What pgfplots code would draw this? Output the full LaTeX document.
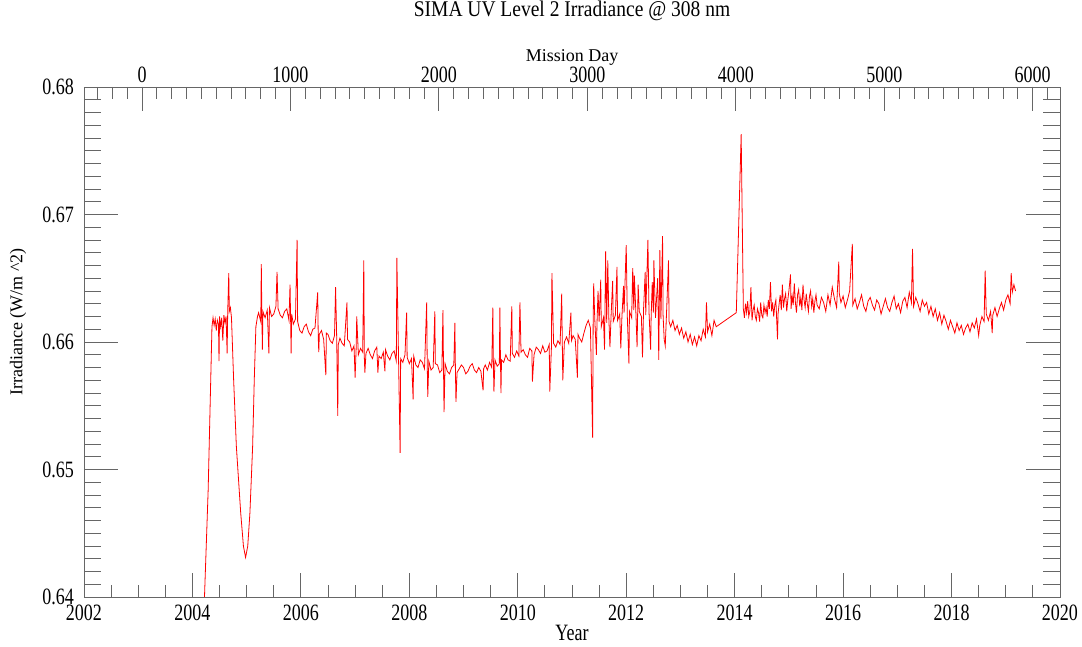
\documentclass[border=0pt]{standalone}
\usepackage{fontspec}
\setmainfont{Liberation Serif}
\usepackage{graphicx}
\usepackage{pgfplots}
\pgfplotsset{compat=1.18}
\newcommand\fs{\fontsize{18}{21}\selectfont}
\newcommand\tall[1]{\scalebox{1}[1.3]{#1}}
\begin{document}
\begin{tikzpicture}
\useasboundingbox (-84pt,-49pt) rectangle (998pt,597pt);
\pgfplotsset{
  common/.style={scale only axis, width=976pt, height=510pt, at={(0pt,0pt)}, anchor=south west,
    axis line style={draw=black!60, line width=0.9pt},
    tick style={draw=black!60, line width=0.9pt},
    tick align=inside,
    tick label style={font=\fs, text=black},
    label style={font=\fs},
    /pgf/number format/assume math mode=true,
    /pgf/number format/1000 sep={},
    ymin=0.64, ymax=0.68},
}
% ---------- axis 1: years (bottom) and data ----------
\begin{axis}[common, xmin=2002, xmax=2020,
  xtick={2002,2004,...,2020}, minor xtick={2002,2002.5,...,2020},
  xtick pos=left, ytick=\empty,
  major tick length=24pt, minor tick length=12pt,
  xticklabel={\tall{\pgfmathprintnumber{\tick}}},
  xticklabel style={anchor=center, yshift=-16pt},
  xlabel={\tall{Year}}, xlabel style={at={(axis description cs:0.5,-0.0706)}, anchor=center},
  title={\scalebox{1}[1.15]{SIMA UV Level 2 Irradiance @ 308 nm}},
  title style={font=\fontsize{19.5}{22}\selectfont, at={(axis description cs:0.5,1.137)}, anchor=center},
]
\addplot[red, line width=0.8pt] table {
2004.21 0.6385
2004.29 0.6484
2004.36 0.6612
2004.38 0.6619
2004.40 0.6613
2004.42 0.6618
2004.44 0.6609
2004.46 0.6617
2004.48 0.6614
2004.49 0.6585
2004.50 0.6620
2004.52 0.6612
2004.54 0.6619
2004.56 0.6601
2004.58 0.6621
2004.60 0.6615
2004.62 0.6620
2004.64 0.6591
2004.65 0.6623
2004.67 0.6654
2004.68 0.6624
2004.70 0.6627
2004.72 0.6619
2004.76 0.6570
2004.81 0.6518
2004.89 0.6466
2004.94 0.6440
2004.98 0.6431
2005.02 0.6440
2005.06 0.6466
2005.11 0.6518
2005.14 0.6570
2005.17 0.6612
2005.20 0.6620
2005.22 0.6623
2005.26 0.6616
2005.27 0.6661
2005.28 0.6621
2005.29 0.6594
2005.30 0.6624
2005.34 0.6619
2005.38 0.6625
2005.41 0.6591
2005.42 0.6627
2005.46 0.6620
2005.50 0.6622
2005.54 0.6628
2005.56 0.6655
2005.58 0.6626
2005.62 0.6621
2005.66 0.6619
2005.70 0.6624
2005.74 0.6626
2005.78 0.6617
2005.80 0.6645
2005.81 0.6619
2005.82 0.6591
2005.83 0.6622
2005.86 0.6614
2005.90 0.6618
2005.93 0.6680
2005.94 0.6616
2005.98 0.6609
2006.02 0.6607
2006.06 0.6612
2006.10 0.6614
2006.14 0.6608
2006.18 0.6605
2006.22 0.6610
2006.26 0.6611
2006.31 0.6639
2006.32 0.6604
2006.33 0.6592
2006.34 0.6606
2006.38 0.6609
2006.42 0.6602
2006.46 0.6574
2006.47 0.6607
2006.50 0.6606
2006.54 0.6601
2006.58 0.6599
2006.62 0.6605
2006.64 0.6643
2006.66 0.6604
2006.68 0.6542
2006.69 0.6598
2006.72 0.6603
2006.76 0.6599
2006.80 0.6597
2006.85 0.6631
2006.86 0.6602
2006.90 0.6600
2006.94 0.6593
2006.98 0.6597
2007.00 0.6572
2007.02 0.6596
2007.03 0.6620
2007.06 0.6590
2007.10 0.6595
2007.14 0.6592
2007.16 0.6664
2007.17 0.6588
2007.18 0.6576
2007.20 0.6591
2007.24 0.6595
2007.28 0.6590
2007.32 0.6587
2007.36 0.6593
2007.40 0.6596
2007.42 0.6576
2007.44 0.6589
2007.48 0.6587
2007.52 0.6592
2007.55 0.6577
2007.56 0.6594
2007.60 0.6589
2007.64 0.6586
2007.68 0.6591
2007.72 0.6593
2007.76 0.6585
2007.77 0.6666
2007.80 0.6590
2007.83 0.6513
2007.84 0.6587
2007.88 0.6584
2007.92 0.6590
2007.95 0.6623
2007.96 0.6588
2008.00 0.6583
2008.04 0.6587
2008.07 0.6555
2008.08 0.6589
2008.12 0.6582
2008.16 0.6580
2008.20 0.6586
2008.24 0.6584
2008.28 0.6579
2008.32 0.6631
2008.33 0.6583
2008.34 0.6557
2008.36 0.6585
2008.40 0.6578
2008.44 0.6580
2008.47 0.6624
2008.48 0.6583
2008.52 0.6582
2008.56 0.6576
2008.60 0.6578
2008.62 0.6625
2008.63 0.6581
2008.64 0.6545
2008.66 0.6583
2008.70 0.6577
2008.74 0.6575
2008.78 0.6580
2008.82 0.6582
2008.84 0.6615
2008.85 0.6578
2008.86 0.6553
2008.88 0.6576
2008.92 0.6579
2008.96 0.6582
2009.00 0.6580
2009.04 0.6575
2009.08 0.6577
2009.12 0.6581
2009.16 0.6583
2009.20 0.6578
2009.24 0.6576
2009.28 0.6580
2009.32 0.6577
2009.36 0.6562
2009.37 0.6579
2009.40 0.6582
2009.44 0.6578
2009.48 0.6584
2009.52 0.6580
2009.54 0.6627
2009.55 0.6583
2009.56 0.6561
2009.58 0.6586
2009.62 0.6581
2009.66 0.6583
2009.67 0.6627
2009.68 0.6588
2009.69 0.6560
2009.70 0.6586
2009.74 0.6584
2009.78 0.6590
2009.82 0.6586
2009.86 0.6585
2009.89 0.6628
2009.90 0.6591
2009.94 0.6588
2009.98 0.6593
2010.02 0.6589
2010.04 0.6631
2010.06 0.6592
2010.10 0.6594
2010.14 0.6590
2010.18 0.6588
2010.22 0.6595
2010.26 0.6593
2010.27 0.6569
2010.30 0.6590
2010.34 0.6596
2010.38 0.6594
2010.42 0.6591
2010.46 0.6597
2010.50 0.6592
2010.54 0.6593
2010.58 0.6598
2010.59 0.6561
2010.62 0.6595
2010.63 0.6654
2010.66 0.6599
2010.70 0.6596
2010.74 0.6601
2010.78 0.6598
2010.81 0.6638
2010.82 0.6603
2010.83 0.6570
2010.86 0.6600
2010.90 0.6604
2010.94 0.6599
2010.98 0.6623
2010.99 0.6601
2011.02 0.6605
2011.06 0.6602
2011.10 0.6572
2011.11 0.6606
2011.14 0.6603
2011.18 0.6600
2011.22 0.6607
2011.26 0.6613
2011.30 0.6617
2011.34 0.6611
2011.38 0.6525
2011.39 0.6614
2011.40 0.6646
2011.42 0.6618
2011.45 0.6590
2011.46 0.6613
2011.48 0.6640
2011.50 0.6616
2011.53 0.6649
2011.54 0.6612
2011.58 0.6619
2011.60 0.6594
2011.62 0.6671
2011.64 0.6615
2011.66 0.6664
2011.68 0.6618
2011.70 0.6596
2011.72 0.6620
2011.75 0.6648
2011.76 0.6616
2011.80 0.6621
2011.83 0.6659
2011.84 0.6617
2011.88 0.6622
2011.90 0.6595
2011.92 0.6619
2011.95 0.6644
2011.96 0.6623
2012.00 0.6676
2012.02 0.6620
2012.05 0.6583
2012.06 0.6624
2012.10 0.6619
2012.12 0.6658
2012.14 0.6625
2012.15 0.6652
2012.18 0.6621
2012.20 0.6596
2012.22 0.6645
2012.24 0.6624
2012.28 0.6620
2012.30 0.6588
2012.32 0.6626
2012.35 0.6655
2012.36 0.6621
2012.40 0.6680
2012.42 0.6624
2012.45 0.6594
2012.46 0.6620
2012.48 0.6647
2012.50 0.6623
2012.51 0.6664
2012.54 0.6619
2012.58 0.6650
2012.59 0.6622
2012.60 0.6586
2012.62 0.6672
2012.64 0.6618
2012.67 0.6683
2012.68 0.6621
2012.70 0.6602
2012.72 0.6597
2012.74 0.6619
2012.78 0.6664
2012.79 0.6616
2012.82 0.6612
2012.86 0.6617
2012.90 0.6609
2012.94 0.6613
2012.98 0.6606
2013.02 0.6611
2013.06 0.6603
2013.10 0.6608
2013.14 0.6600
2013.18 0.6606
2013.22 0.6598
2013.26 0.6604
2013.30 0.6597
2013.34 0.6605
2013.38 0.6601
2013.42 0.6610
2013.46 0.6604
2013.48 0.6631
2013.50 0.6608
2013.54 0.6614
2013.58 0.6605
2013.62 0.6617
2013.66 0.6612
2014.03 0.6623
2014.12 0.6763
2014.16 0.6626
2014.18 0.6619
2014.20 0.6630
2014.22 0.6623
2014.24 0.6632
2014.26 0.6620
2014.28 0.6624
2014.30 0.6643
2014.32 0.6617
2014.34 0.6625
2014.36 0.6629
2014.38 0.6620
2014.40 0.6617
2014.42 0.6626
2014.44 0.6623
2014.46 0.6616
2014.48 0.6631
2014.50 0.6621
2014.52 0.6619
2014.54 0.6629
2014.56 0.6623
2014.58 0.6627
2014.60 0.6620
2014.62 0.6633
2014.64 0.6626
2014.66 0.6647
2014.68 0.6624
2014.70 0.6631
2014.72 0.6620
2014.74 0.6629
2014.76 0.6633
2014.79 0.6602
2014.80 0.6622
2014.82 0.6630
2014.84 0.6637
2014.86 0.6625
2014.88 0.6645
2014.90 0.6627
2014.92 0.6634
2014.94 0.6638
2014.96 0.6624
2014.98 0.6633
2015.00 0.6640
2015.03 0.6653
2015.04 0.6626
2015.06 0.6636
2015.08 0.6629
2015.10 0.6646
2015.12 0.6631
2015.14 0.6623
2015.16 0.6637
2015.18 0.6641
2015.20 0.6628
2015.22 0.6635
2015.24 0.6625
2015.26 0.6645
2015.28 0.6633
2015.30 0.6627
2015.32 0.6638
2015.34 0.6630
2015.36 0.6624
2015.38 0.6636
2015.40 0.6640
2015.42 0.6628
2015.44 0.6634
2015.46 0.6623
2015.48 0.6632
2015.50 0.6637
2015.52 0.6629
2015.56 0.6626
2015.60 0.6635
2015.64 0.6631
2015.68 0.6624
2015.72 0.6637
2015.76 0.6629
2015.80 0.6643
2015.84 0.6634
2015.88 0.6627
2015.92 0.6663
2015.93 0.6638
2015.96 0.6631
2016.00 0.6636
2016.04 0.6627
2016.08 0.6633
2016.12 0.6640
2016.17 0.6677
2016.18 0.6629
2016.22 0.6634
2016.26 0.6626
2016.30 0.6631
2016.34 0.6637
2016.38 0.6628
2016.42 0.6624
2016.46 0.6632
2016.50 0.6635
2016.54 0.6629
2016.58 0.6625
2016.62 0.6633
2016.66 0.6630
2016.70 0.6622
2016.74 0.6628
2016.78 0.6634
2016.82 0.6627
2016.86 0.6624
2016.90 0.6631
2016.94 0.6636
2016.98 0.6626
2017.02 0.6630
2017.06 0.6623
2017.10 0.6632
2017.14 0.6635
2017.18 0.6627
2017.22 0.6639
2017.26 0.6631
2017.28 0.6673
2017.30 0.6628
2017.34 0.6635
2017.38 0.6630
2017.42 0.6624
2017.46 0.6633
2017.50 0.6628
2017.54 0.6631
2017.58 0.6622
2017.62 0.6628
2017.66 0.6620
2017.70 0.6626
2017.74 0.6617
2017.78 0.6623
2017.82 0.6614
2017.86 0.6621
2017.90 0.6616
2017.94 0.6610
2017.98 0.6617
2018.02 0.6612
2018.06 0.6607
2018.10 0.6615
2018.14 0.6609
2018.18 0.6613
2018.22 0.6606
2018.26 0.6611
2018.30 0.6614
2018.34 0.6608
2018.38 0.6615
2018.42 0.6611
2018.46 0.6618
2018.50 0.6605
2018.52 0.6613
2018.56 0.6620
2018.60 0.6616
2018.62 0.6656
2018.64 0.6622
2018.68 0.6617
2018.72 0.6624
2018.75 0.6607
2018.76 0.6621
2018.80 0.6627
2018.84 0.6620
2018.88 0.6626
2018.92 0.6631
2018.96 0.6625
2019.00 0.6633
2019.04 0.6637
2019.08 0.6630
2019.10 0.6654
2019.12 0.6639
2019.15 0.6645
2019.18 0.6640
};
\end{axis}
% ---------- axis 2: irradiance ticks (left and right) ----------
\begin{axis}[common, xmin=0, xmax=1, xtick=\empty,
  ytick={0.64,0.65,0.66,0.67,0.68},
  minor ytick={0.641,0.642,0.643,0.644,0.645,0.646,0.647,0.648,0.649,
               0.651,0.652,0.653,0.654,0.655,0.656,0.657,0.658,0.659,
               0.661,0.662,0.663,0.664,0.665,0.666,0.667,0.668,0.669,
               0.671,0.672,0.673,0.674,0.675,0.676,0.677,0.678,0.679},
  ytick pos=both, yticklabel pos=left,
  major tick length=34pt, minor tick length=17pt,
  yticklabel={\tall{\pgfmathprintnumber[fixed,fixed zerofill,precision=2]{\tick}}},
  yticklabel style={anchor=east, inner sep=0pt, xshift=-10pt},
  ylabel={Irradiance (W/m \^{}2)},
  ylabel style={at={(axis description cs:-0.0676,0.539)}, anchor=center},
]
\end{axis}
% ---------- axis 3: mission day (top) ----------
\begin{axis}[common, xmin=-390.7, xmax=6183.8, ytick=\empty,
  xtick={0,1000,...,6000}, minor xtick={-300,-200,...,6100},
  xtick pos=right, xticklabel pos=right,
  major tick length=24pt, minor tick length=12pt,
  xticklabel={\tall{\pgfmathprintnumber{\tick}}},
  xticklabel style={anchor=center, yshift=12pt},
  xlabel={Mission Day}, xlabel style={at={(axis description cs:0.5,1.0588)}, anchor=center},
]
\end{axis}
\end{tikzpicture}
\end{document}
